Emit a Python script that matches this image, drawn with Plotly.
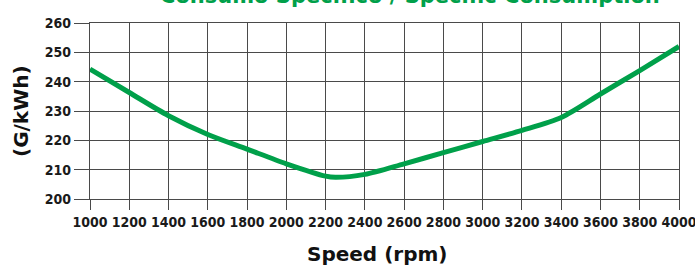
import plotly.graph_objects as go

# Data
speed_rpm = [1000, 1200, 1400, 1600, 1800, 2000, 2200, 2250, 2400, 2600, 2800, 3000, 3200, 3400, 3600, 3800, 4000]
consumption_g_kwh = [244.3, 236.3, 228.4, 222.0, 217.0, 212.0, 207.8, 207.4, 208.4, 212.0, 215.8, 219.6, 223.4, 227.8, 235.8, 243.8, 252.0]

x_ticks = list(range(1000, 4001, 200))
y_ticks = list(range(200, 261, 10))

title_text = "Consumo Specifico / Specific Consumption"
x_title = "Speed (rpm)"
y_title = "(G/kWh)"

GREEN = "#00a04a"
GRID = "#4a4a4a"
TICKFONT = dict(family="DejaVu Sans Condensed", size=14, color="#1a1a1a", weight="bold")
TITLEFONT = "DejaVu Sans, Verdana, sans-serif"

W, H = 695, 265
L, R, T, B = 90, 16, 22.5, 66
PW = W - L - R

fig = go.Figure()
fig.add_trace(go.Scatter(
    x=speed_rpm, y=consumption_g_kwh, mode="lines",
    line=dict(color=GREEN, width=5, shape="spline", smoothing=0.8),
    hoverinfo="skip", showlegend=False,
))

fig.update_layout(
    width=W, height=H,
    margin=dict(l=L, r=R, t=T, b=B, autoexpand=False),
    paper_bgcolor="white", plot_bgcolor="white",
    showlegend=False,
)

fig.update_xaxes(
    range=[1000, 4000], tickmode="array", tickvals=x_ticks,
    ticktext=[str(v) for v in x_ticks], tickangle=0, automargin=False,
    ticklabeloverflow="allow",
    showgrid=True, gridcolor=GRID, gridwidth=1.3,
    showline=True, linecolor=GRID, linewidth=1.3, mirror=True,
    ticks="outside", ticklen=10, tickcolor=GRID, tickwidth=1.3,
    tickfont=TICKFONT, zeroline=False,
)
fig.update_yaxes(
    range=[200, 260], tickmode="array", tickvals=y_ticks,
    ticktext=[str(v) for v in y_ticks], automargin=False,
    ticklabeloverflow="allow",
    showgrid=True, gridcolor=GRID, gridwidth=1.3,
    showline=True, linecolor=GRID, linewidth=1.3, mirror=True,
    ticks="outside", ticklen=15, tickcolor=GRID, tickwidth=1.3,
    tickfont=TICKFONT, zeroline=False,
)

# Chart title (cut off at the top in the reference)
fig.add_annotation(
    text=title_text, xref="paper", yref="paper", x=(410 - L) / PW, y=1,
    xanchor="center", yanchor="bottom", yshift=13, showarrow=False,
    font=dict(family=TITLEFONT, size=21, color=GREEN, weight="bold"),
)
# Axis titles
fig.add_annotation(
    text=x_title, xref="paper", yref="paper", x=(377 - L) / PW, y=0,
    xanchor="center", yanchor="top", yshift=-41, showarrow=False,
    font=dict(family=TITLEFONT, size=20, color="#111111", weight="bold"),
)
fig.add_annotation(
    text=y_title, xref="paper", yref="paper", x=0, y=0.5,
    xanchor="center", yanchor="middle", xshift=-69, showarrow=False, textangle=-90,
    font=dict(family=TITLEFONT, size=20, color="#111111", weight="bold"),
)

# Remove the browser's default 8px body margin so the figure fills the window.
fig.write_html("out.html", config={"displayModeBar": False},
               post_script="document.body.style.margin='0';")
